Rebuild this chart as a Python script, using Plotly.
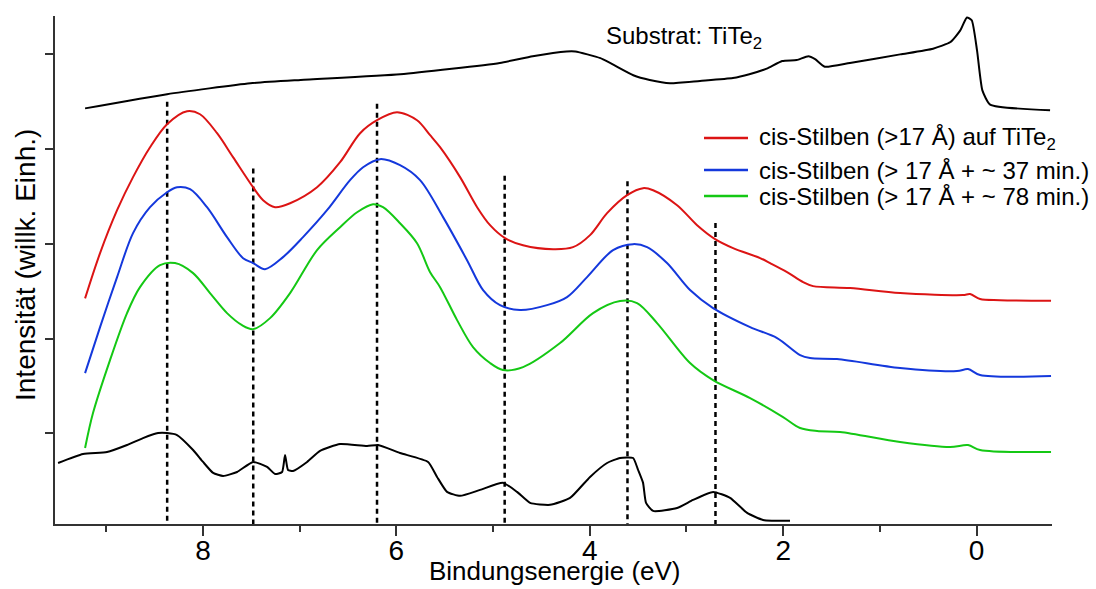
import plotly.graph_objects as go

# ---------------- data (binding energy in eV, intensity in arb. units) ----------------
sub_x = [9.219, 8.371, 7.51, 6.99, 5.96, 4.93, 4.59, 4.24, 4.15, 3.89, 3.55, 3.38, 3.17, 2.86,
         2.52, 2.35, 2.17, 2.01, 1.86, 1.74, 1.67, 1.57, 1.31, 0.79, 0.45, 0.27, 0.17, 0.10,
         0.05, -0.005, -0.06, -0.14, -0.76]
sub_y = [4.43, 4.58, 4.695, 4.73, 4.79, 4.91, 4.98, 5.03, 5.03, 4.96, 4.78, 4.73, 4.695, 4.72,
         4.75, 4.79, 4.85, 4.93, 4.94, 4.98, 4.95, 4.87, 4.91, 5.00, 5.06, 5.13, 5.25, 5.39,
         5.36, 5.04, 4.62, 4.47, 4.41]

red_x = [9.219, 9.064, 8.888, 8.723, 8.547, 8.371, 8.164, 8.030, 7.854, 7.689, 7.482, 7.378,
         7.254, 7.099, 6.820, 6.582, 6.375, 6.200, 5.993, 5.786, 5.651, 5.548, 5.341, 5.165,
         5.031, 4.876, 4.690, 4.380, 4.173, 3.997, 3.821, 3.614, 3.449, 3.345, 3.097, 2.890,
         2.704, 2.518, 2.239, 2.135, 1.960, 1.794, 1.691, 1.308, 0.791, 0.140, 0.067, -0.036,
         -0.243, -0.77]
red_y = [2.424, 2.902, 3.355, 3.704, 4.020, 4.263, 4.400, 4.368, 4.168, 3.915, 3.598, 3.461,
         3.387, 3.429, 3.598, 3.862, 4.168, 4.305, 4.389, 4.305, 4.147, 4.020, 3.704, 3.387,
         3.197, 3.060, 2.986, 2.944, 2.965, 3.092, 3.324, 3.514, 3.588, 3.566, 3.408, 3.197,
         3.050, 2.955, 2.850, 2.797, 2.702, 2.596, 2.554, 2.533, 2.480, 2.459, 2.470, 2.417,
         2.406, 2.399]

blue_x = [9.219, 9.064, 8.888, 8.723, 8.547, 8.371, 8.268, 8.133, 7.958, 7.751, 7.585, 7.482,
          7.358, 7.172, 6.965, 6.717, 6.479, 6.344, 6.169, 5.962, 5.755, 5.517, 5.269, 5.103,
          4.928, 4.721, 4.442, 4.235, 4.028, 3.759, 3.552, 3.407, 3.201, 2.963, 2.725, 2.342,
          2.063, 1.825, 1.722, 1.443, 0.791, 0.202, 0.088, -0.036, -0.77]
blue_y = [1.636, 2.121, 2.649, 3.113, 3.387, 3.545, 3.598, 3.577, 3.387, 3.071, 2.849, 2.797,
          2.733, 2.860, 3.071, 3.355, 3.672, 3.809, 3.894, 3.830, 3.672, 3.282, 2.828, 2.512,
          2.353, 2.301, 2.353, 2.438, 2.649, 2.934, 2.997, 2.965, 2.797, 2.512, 2.322, 2.121,
          2.005, 1.826, 1.794, 1.784, 1.689, 1.657, 1.678, 1.615, 1.604]

green_x = [9.219, 9.137, 8.961, 8.785, 8.651, 8.444, 8.289, 8.102, 7.927, 7.751, 7.596, 7.482,
           7.306, 7.099, 6.820, 6.582, 6.406, 6.241, 6.138, 5.962, 5.786, 5.651, 5.548, 5.372,
           5.207, 5.031, 4.897, 4.690, 4.307, 3.966, 3.687, 3.511, 3.304, 2.963, 2.725, 2.342,
           2.001, 1.825, 1.649, 1.412, 0.791, 0.274, 0.088, -0.036, -0.77]
green_y = [0.845, 1.214, 1.773, 2.269, 2.543, 2.775, 2.797, 2.691, 2.480, 2.269, 2.142, 2.100,
           2.216, 2.480, 2.934, 3.176, 3.334, 3.419, 3.387, 3.218, 3.007, 2.701, 2.543, 2.195,
           1.910, 1.742, 1.668, 1.699, 1.953, 2.269, 2.396, 2.375, 2.164, 1.742, 1.562, 1.372,
           1.172, 1.056, 1.024, 1.014, 0.908, 0.855, 0.876, 0.824, 0.803]

ref_x = [9.498, 9.240, 8.992, 8.785, 8.620, 8.464, 8.371, 8.268, 8.102, 7.999, 7.895, 7.792,
         7.647, 7.482, 7.337, 7.254, 7.182, 7.151, 7.120, 7.068, 6.923, 6.789, 6.582, 6.303,
         6.189, 5.962, 5.672, 5.579, 5.476, 5.341, 5.134, 4.897, 4.752, 4.617, 4.411, 4.204,
         3.997, 3.821, 3.687, 3.552, 3.500, 3.449, 3.418, 3.345, 3.097, 2.932, 2.725, 2.549,
         2.373, 2.208, 1.929]
ref_y = [0.687, 0.782, 0.803, 0.877, 0.950, 1.003, 1.003, 0.982, 0.824, 0.698, 0.582, 0.550,
         0.592, 0.698, 0.645, 0.571, 0.592, 0.771, 0.613, 0.603, 0.698, 0.814, 0.887, 0.866,
         0.877, 0.792, 0.698, 0.540, 0.382, 0.340, 0.403, 0.477, 0.382, 0.266, 0.245, 0.318,
         0.540, 0.687, 0.740, 0.740, 0.613, 0.477, 0.266, 0.181, 0.212, 0.297, 0.382, 0.318,
         0.160, 0.086, 0.076]

# vertical dotted marker lines: position and upper end
mark_x = [8.37, 7.48, 6.20, 4.88, 3.61, 2.70]
mark_top = [4.50, 3.795, 4.48, 3.72, 3.66, 3.22]

legend_names = ["cis-Stilben (>17 Å) auf TiTe<sub>2</sub>",
                "cis-Stilben (> 17 Å + ~ 37 min.)",
                "cis-Stilben (> 17 Å + ~ 78 min.)"]
substrate_label = "Substrat: TiTe<sub>2</sub>"
x_title = "Bindungsenergie (eV)"
y_title = "Intensität (willk. Einh.)"
x_ticks = [8, 6, 4, 2, 0]
x_minor = [9, 7, 5, 3, 1]
y_ticks = [1, 2, 3, 4, 5]

X_RANGE = [9.53, -0.78]
Y_RANGE = [0.043, 5.405]

# ---------------- figure ----------------
RED, BLUE, GREEN, BLACK = "#dc1414", "#1438dc", "#14c814", "#000000"
FONT = "Liberation Sans, Arial, Helvetica, sans-serif"

fig = go.Figure()

for mx, mt in zip(mark_x, mark_top):
    fig.add_trace(go.Scatter(x=[mx, mx], y=[mt, Y_RANGE[0]], mode="lines",
                             line=dict(color=BLACK, width=2.5, dash="5px,4px"),
                             showlegend=False, hoverinfo="skip"))

curves = [(sub_x, sub_y, BLACK, 0.5), (red_x, red_y, RED, 0.9), (blue_x, blue_y, BLUE, 0.9),
          (green_x, green_y, GREEN, 0.9), (ref_x, ref_y, BLACK, 0.5)]
for cx, cy, col, sm in curves:
    fig.add_trace(go.Scatter(x=cx, y=cy, mode="lines",
                             line=dict(color=col, width=2, shape="spline", smoothing=sm),
                             showlegend=False))

# manual legend
L = 55; R = 1052; T = 16; B = 524
def px(xp): return (xp - L) / (R - L)
def py(yp): return (B - yp) / (B - T)
rows = [138, 170, 196]
for name, col, ry in zip(legend_names, [RED, BLUE, GREEN], rows):
    fig.add_shape(type="line", xref="paper", yref="paper", x0=px(704), x1=px(748),
                  y0=py(ry), y1=py(ry), line=dict(color=col, width=2.5))
    fig.add_annotation(xref="paper", yref="paper", x=px(757), y=py(ry), text=name,
                       xanchor="left", yanchor="middle", showarrow=False,
                       font=dict(size=24, color=BLACK, family=FONT))

fig.add_annotation(xref="paper", yref="paper", x=px(604), y=py(37), text=substrate_label,
                   xanchor="left", yanchor="middle", showarrow=False,
                   font=dict(size=24, color=BLACK, family=FONT))
fig.add_annotation(xref="paper", yref="paper", x=px(555), y=py(571), text=x_title,
                   xanchor="center", yanchor="middle", showarrow=False,
                   font=dict(size=26, color=BLACK, family=FONT))
fig.add_annotation(xref="paper", yref="paper", x=px(25), y=py(265), text=y_title,
                   textangle=-90, xanchor="center", yanchor="middle", showarrow=False,
                   font=dict(size=28, color=BLACK, family=FONT))

AX = "#333333"
fig.update_layout(
    width=1096, height=589,
    margin=dict(l=L, r=1096 - R, t=T, b=589 - B),
    paper_bgcolor="white", plot_bgcolor="white",
    font=dict(family=FONT, color=BLACK),
    xaxis=dict(range=X_RANGE, tickvals=x_ticks, ticks="outside", ticklen=10, tickwidth=1.5,
               tickcolor=AX, showline=True, linecolor=AX, linewidth=1.5, showgrid=False,
               zeroline=False, tickfont=dict(size=28, color=BLACK), ticklabelstandoff=-9,
               minor=dict(tickvals=x_minor, ticks="outside", ticklen=6, tickwidth=1.5,
                          tickcolor=AX)),
    yaxis=dict(range=Y_RANGE, tickvals=y_ticks, ticks="outside", ticklen=8, tickwidth=1.5,
               tickcolor=AX, showline=True, linecolor=AX, linewidth=1.5, showgrid=False,
               zeroline=False, showticklabels=False),
)

fig.write_html("out.html")
